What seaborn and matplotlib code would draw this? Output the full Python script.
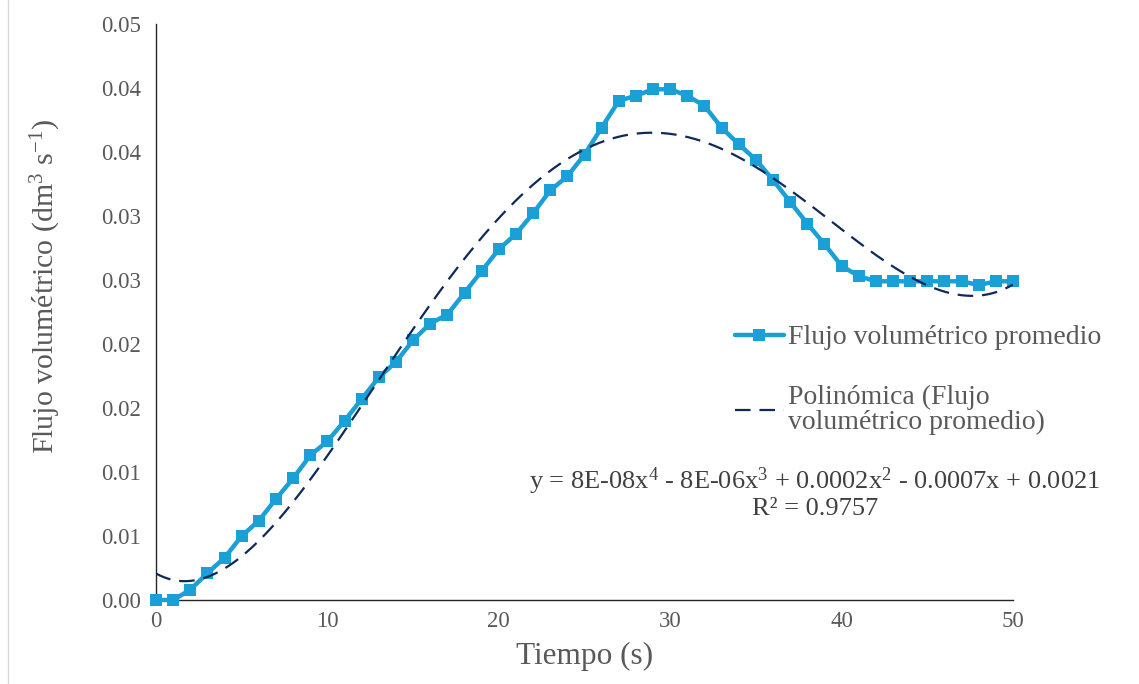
import numpy as np
import pandas as pd
import matplotlib
matplotlib.use("Agg")
import matplotlib.pyplot as plt
import seaborn as sns
from matplotlib.lines import Line2D

# ---- data ----
tiempo = list(range(0, 51))
flujo = [0.0000, 0.0000, 0.0008, 0.0021, 0.0033, 0.0050, 0.0062, 0.0079, 0.0095, 0.0113,
         0.0124, 0.0140, 0.0157, 0.0174, 0.0186, 0.0203, 0.0216, 0.0223, 0.0240, 0.0257,
         0.0274, 0.0286, 0.0302, 0.0320, 0.0331, 0.0348, 0.0369, 0.0390, 0.0394, 0.0399,
         0.0399, 0.0394, 0.0386, 0.0369, 0.0356, 0.0344, 0.0328, 0.0311, 0.0294, 0.0278,
         0.0261, 0.0253, 0.0249, 0.0249, 0.0249, 0.0249, 0.0249, 0.0249, 0.0246, 0.0249,
         0.0249]
y_ticks = [0.000, 0.005, 0.010, 0.015, 0.020, 0.025, 0.030, 0.035, 0.040, 0.045]
y_tick_labels = ["0.00", "0.01", "0.01", "0.02", "0.02", "0.03", "0.03", "0.04", "0.04", "0.05"]
x_ticks = [0, 10, 20, 30, 40, 50]
serie_label = "Flujo volumétrico promedio"
trend_label = "Polinómica (Flujo\nvolumétrico promedio)"
eq_text = ("y = 8E-08x$^{\\mathregular{4}}$ - 8E-06x$^{\\mathregular{3}}$ + 0.0002x$^{\\mathregular{2}}$"
           " - 0.0007x + 0.0021\nR² = 0.9757")

sns.set_theme(style="white")
plt.rcParams["font.family"] = ["Liberation Serif", "DejaVu Serif"]
plt.rcParams["mathtext.fontset"] = "custom"
plt.rcParams["mathtext.rm"] = "Liberation Serif"
plt.rcParams["mathtext.it"] = "Liberation Serif:italic"
plt.rcParams["mathtext.bf"] = "Liberation Serif:bold"

df = pd.DataFrame({"t": tiempo, "q": flujo})

# polynomial trend (order 4), like the spreadsheet trendline
coef = np.polyfit(df["t"], df["q"], 4)
tt = np.linspace(0, 50, 400)
trend = pd.DataFrame({"t": tt, "q": np.polyval(coef, tt)})

fig = plt.figure(figsize=(11.39, 6.84), dpi=100)
ax = fig.add_axes([156 / 1139, 1 - 600 / 684, (1013 - 156) / 1139, (600 - 24) / 684])

blue = "#1A9FD6"
navy = "#0E2A5A"
grey = "#595959"

sns.lineplot(data=df, x="t", y="q", ax=ax, color=blue, lw=3.2, marker="s",
             markersize=8, markeredgewidth=0, clip_on=False, zorder=3)
sns.lineplot(data=trend, x="t", y="q", ax=ax, color=navy, lw=1.6,
             dashes=False, zorder=4)
ax.lines[-1].set_dashes([7, 4])

ax.set_xlim(0, 50)
ax.set_ylim(0, 0.045)
ax.set_xticks(x_ticks)
ax.set_xticklabels([str(v) for v in x_ticks])
ax.set_yticks(y_ticks)
ax.set_yticklabels(y_tick_labels)
ax.tick_params(axis="both", length=0, labelsize=16.5, colors=grey)
ax.tick_params(axis="y", pad=11)
ax.tick_params(axis="x", pad=8)
for s in ["top", "right"]:
    ax.spines[s].set_visible(False)
for s in ["left", "bottom"]:
    ax.spines[s].set_color("#262626")
    ax.spines[s].set_linewidth(1.0)

ax.set_xlabel("Tiempo (s)", fontsize=22.5, color=grey, labelpad=7)
ax.set_ylabel("Flujo volumétrico (dm$^{\\mathregular{3}}$ s$^{\\mathregular{-1}}$)",
              fontsize=21.5, color=grey)
ax.yaxis.set_label_coords(-0.108, (600 - 287) / 576)

handles = [Line2D([], [], color=blue, lw=3.2, marker="s", markersize=8, markeredgewidth=0),
           Line2D([], [], color=navy, lw=1.6, dashes=[7, 4])]
leg = fig.legend(handles, [serie_label, trend_label], loc="upper left",
                 bbox_to_anchor=(735 / 1139, 1 - 325 / 684), frameon=False,
                 fontsize=20, handlelength=1.75, handletextpad=0.15, labelspacing=1.25,
                 borderpad=0, borderaxespad=0)
for t in leg.get_texts():
    t.set_color(grey)
    t.set_linespacing(1.0)

fig.text(815 / 1139, 1 - 493 / 684, eq_text, ha="center", va="center",
         fontsize=19, color="#404040", linespacing=1.05)

fig.add_artist(Line2D([8 / 1139, 8 / 1139], [0, 1], transform=fig.transFigure,
                      color="#d9d9d9", lw=1))

fig.savefig("out.png", dpi=100)
